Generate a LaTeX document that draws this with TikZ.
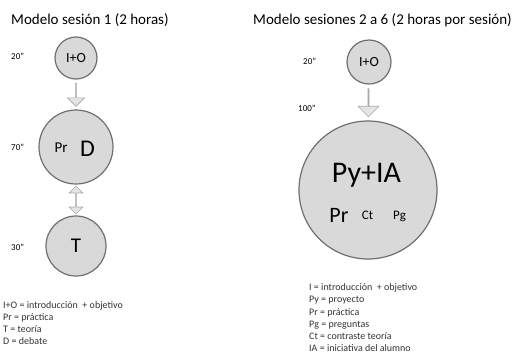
\documentclass[tikz,border=0pt]{standalone}
\usepackage{fontspec}
\setmainfont{Carlito}
\usetikzlibrary{shapes.arrows, calc}

\definecolor{circfill}{HTML}{D9D9D9}
\definecolor{circline}{HTML}{6F6F6F}
\definecolor{arrfill}{HTML}{E4E4E4}
\definecolor{arrline}{HTML}{A8A8A8}

\tikzset{
  phase/.style={circle, draw=circline, fill=circfill, line width=1.2pt, inner sep=0pt},
  blockarrow/.style={single arrow, draw=arrline, fill=arrfill, line width=0.6pt,
    inner sep=0pt, shape border rotate=270},
  bothways/.style={double arrow, draw=arrline, fill=arrfill, line width=0.6pt,
    inner sep=0pt, shape border rotate=90},
  minutes/.style={anchor=west, inner sep=0pt, font=\fontsize{9}{10}\selectfont},
  legend/.style={anchor=north west, align=left, inner sep=0pt,
    font=\fontsize{10}{12.2}\selectfont, text=black!80},
  heading/.style={anchor=west, inner sep=0pt, font=\fontsize{15}{17}\selectfont}
}

\begin{document}
\begin{tikzpicture}[x=1pt, y=-1pt]
\useasboundingbox (0,0) rectangle (514,354);

% sesion 1
\node[heading] (H1) at (11,20) {Modelo sesión 1 (2 horas)};
\node[minutes] (M1) at (11,56) {20”};
\node[minutes] (M2) at (11,147) {70”};
\node[minutes] (M3) at (11,247) {30”};
\node[phase, minimum size=42, font=\fontsize{14}{16}\selectfont] (IO1) at (76,58) {I+O};
\node[phase, minimum size=74] (D) at (76,147) {};
\node[anchor=base, inner sep=0pt, font=\fontsize{15}{17}\selectfont] (PrD) at (61,152) {Pr};
\node[anchor=base, inner sep=0pt, font=\fontsize{24}{26}\selectfont] (Dl) at (87.5,156) {D};
\node[phase, minimum size=60, font=\fontsize{21}{23}\selectfont] (T) at (76,246) {T};
\node[blockarrow, minimum height=23, minimum width=17, single arrow head extend=3.5]
  (A1) at ($(IO1.south)!0.5!(D.north)$) {};
\node[bothways, minimum height=28, minimum width=14, double arrow head extend=3.5]
  (A2) at ($(D.south)!0.5!(T.north)$) {};
\node[legend] (L1) at (3,301) {I+O = introducción \ + objetivo\\Pr = práctica\\T = teoría\\D = debate};

% sesiones 2 a 6
\node[heading] (H2) at (253,20) {Modelo sesiones 2 a 6 (2 horas por sesión)};
\node[minutes] (M4) at (303,61) {20”};
\node[minutes] (M5) at (298,108) {100”};
\node[phase, minimum size=44, font=\fontsize{14}{16}\selectfont] (IO2) at (369,62) {I+O};
\node[phase, minimum size=138] (PI) at (368,190) {};
\node[anchor=base, inner sep=0pt, font=\fontsize{30}{32}\selectfont] (PyIA) at (366.5,182) {Py+IA};
\node[anchor=base, inner sep=0pt, font=\fontsize{22}{24}\selectfont] (Pr) at (339,222) {Pr};
\node[anchor=base, inner sep=0pt, font=\fontsize{13}{15}\selectfont] (Ct) at (367.5,219) {Ct};
\node[anchor=base, inner sep=0pt, font=\fontsize{13}{15}\selectfont] (Pg) at (399.5,219) {Pg};
\node[blockarrow, minimum height=28, minimum width=21, single arrow head extend=5.5]
  (A3) at ($(IO2.south)!0.5!(PI.north)$) {};
\node[legend] (L2) at (309,283.5) {I = introducción \ + objetivo\\Py = proyecto\\Pr = práctica\\Pg = preguntas\\Ct = contraste teoría\\IA = iniciativa del alumno};
\end{tikzpicture}
\end{document}
